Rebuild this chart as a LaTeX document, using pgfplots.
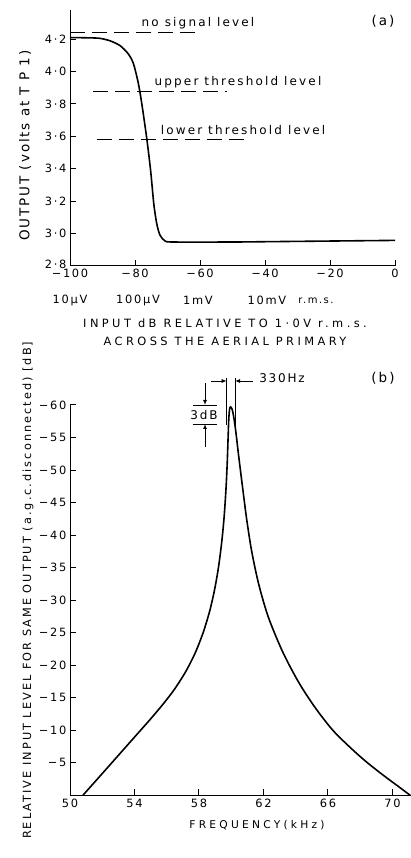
\documentclass[border=0pt]{standalone}
\usepackage{pgfplots}
\pgfplotsset{compat=1.18}
\usepackage{fontspec}
\setmainfont{DejaVu Sans}[LetterSpace=15]
\newfontfamily\capsfont{DejaVu Sans}[LetterSpace=30]
\newfontfamily\lowfont{DejaVu Sans}[LetterSpace=18]
\newfontfamily\ylabfont{DejaVu Sans}[LetterSpace=14]
\usetikzlibrary{arrows.meta}
\begin{document}
\begin{tikzpicture}
\path[use as bounding box] (0pt,0pt) rectangle (411pt,858pt);
% ---------------- (a) ----------------
\begin{axis}[
  at={(70pt,592pt)}, anchor=south west,
  scale only axis, width=325pt, height=256pt,
  xmin=-100, xmax=0, ymin=2.8, ymax=4.38,
  axis x line=bottom, axis y line=left,
  axis line style={-, line width=1pt},
  tick align=inside, major tick length=6pt,
  tick style={line width=1pt, black},
  xtick={-100,-80,-60,-40,-20,0},
  xticklabels={−100,−80,−60,−40,−20,0},
  ytick={2.8,3,3.2,3.4,3.6,3.8,4,4.2},
  yticklabels={\raisebox{4pt}{2·8},3·0,3·2,3·4,3·6,3·8,4·0,4·2},
  /pgf/number format/assume math mode=true,
  ticklabel style={font=\fontsize{11.4}{13}\selectfont},
  ylabel={OUTPUT (volts at T P 1)},
  ylabel style={at={(axis description cs:-0.138,0.47)}, anchor=center, font=\ylabfont\fontsize{13.5}{15}\selectfont},
  clip=false,
]
\addplot[black, line width=1.6pt, smooth, tension=0.45] coordinates {
(-100,4.21) (-94,4.208) (-90.8,4.205) (-87.7,4.19) (-84.6,4.16) (-82.1,4.11)
(-80.5,4.05) (-79.0,3.93) (-77.9,3.80) (-76.4,3.59) (-75.2,3.39) (-74.2,3.18)
(-73.3,3.06) (-72.3,2.99) (-70.8,2.955) (-68.2,2.948) (-50,2.948) (-39.5,2.95) (0,2.958)};
\addplot[black, line width=1pt, dash pattern=on 15pt off 7pt] coordinates {(-100,4.24) (-59.5,4.24)};
\addplot[black, line width=1pt, dash pattern=on 15pt off 7pt] coordinates {(-92.8,3.876) (-51.8,3.876)};
\addplot[black, line width=1pt, dash pattern=on 15pt off 7pt] coordinates {(-91.8,3.578) (-44.6,3.578)};
\end{axis}
\node[font=\lowfont\fontsize{12}{14}\selectfont] at (198pt,835pt) {no signal level};
\node[font=\lowfont\fontsize{12}{14}\selectfont] at (238pt,776pt) {upper threshold level};
\node[font=\lowfont\fontsize{12}{14}\selectfont] at (243pt,728pt) {lower threshold level};
\node[font=\fontsize{13.5}{15}\selectfont] at (383pt,837pt) {(a)};
\node[font=\fontsize{11.4}{13}\selectfont] at (70pt,558pt) {10μV};
\node[font=\fontsize{11.4}{13}\selectfont] at (138pt,558pt) {100μV};
\node[font=\fontsize{11.4}{13}\selectfont] at (198pt,558pt) {1mV};
\node[font=\fontsize{11.4}{13}\selectfont] at (267pt,558pt) {10mV};
\node[font=\fontsize{10}{12}\selectfont] at (316pt,557pt) {r.m.s.};
\node[font=\capsfont\fontsize{11.4}{13}\selectfont] at (225pt,535pt) {INPUT dB RELATIVE TO 1·0V r.m.s.};
\node[font=\capsfont\fontsize{11.4}{13}\selectfont] at (225pt,517pt) {ACROSS THE AERIAL PRIMARY};
% ---------------- (b) ----------------
\begin{axis}[
  at={(70pt,62.7pt)}, anchor=south west,
  scale only axis, width=341pt, height=390.3pt,
  xmin=50, xmax=71.15, ymin=0, ymax=60,
  axis x line=bottom, axis y line=left,
  axis line style={-, line width=1pt},
  tick align=inside, major tick length=6pt,
  tick style={line width=1pt, black},
  xtick={50,54,58,62,66,70},
  xticklabels={50,54,58,62,66,70},
  ytick={5,10,15,20,25,30,35,40,45,50,55,60},
  yticklabels={−5,−10,−15,−20,−25,−30,−35,−40,−45,−50,−55,−60},
  /pgf/number format/assume math mode=true,
  ticklabel style={font=\fontsize{11.4}{13}\selectfont},
  ylabel={RELATIVE INPUT LEVEL FOR SAME OUTPUT (a.g.c.disconnected) [dB]},
  ylabel style={at={(axis description cs:-0.123,0.525)}, anchor=center, font=\lowfont\fontsize{11.3}{13}\selectfont},
  clip=false,
]
\addplot[black, line width=1.6pt, smooth, tension=0.5] coordinates {
(50.8,0) (51.95,3.2) (52.95,6.0) (53.95,8.8) (54.95,11.6) (55.75,13.95)
(56.45,16.2) (57.15,18.9) (57.75,21.8) (58.25,24.95) (58.65,28.2) (58.95,31.4)
(59.2,34.9) (59.4,38.7) (59.55,42.5) (59.67,46.9) (59.75,51.0) (59.81,55.3)
(59.85,57.9) (59.89,59.2) (59.93,59.65) (59.97,59.7) (60.03,59.5) (60.1,58.9)
(60.19,57.6) (60.3,55.6) (60.44,52.6) (60.69,47.6) (60.96,42.4) (61.27,37.5)
(61.7,32.5) (62.3,27.4) (63.2,22.0) (64.2,17.3) (65.2,13.5) (66.3,10.0)
(67.4,7.3) (68.4,5.1) (69.5,2.95) (70.4,1.3) (71.1,0)};
\end{axis}
\node[font=\fontsize{13.5}{15}\selectfont] at (383pt,480pt) {(b)};
\node[font=\capsfont\fontsize{10.7}{12}\selectfont] at (257pt,33pt) {FREQUENCY(kHz)};
\node[font=\fontsize{12}{14}\selectfont] at (282pt,480pt) {330Hz};
\node[font=\fontsize{12}{14}\selectfont] at (204pt,443pt) {3dB};
\draw[line width=0.9pt] (193pt,453pt) -- (217pt,453pt);
\draw[line width=0.9pt] (193pt,434pt) -- (217pt,434pt);
\draw[line width=0.9pt, -{Latex[length=5pt,width=4pt]}] (205pt,475pt) -- (205pt,453pt);
\draw[line width=0.9pt, -{Latex[length=5pt,width=4pt]}] (205pt,411pt) -- (205pt,434pt);
\draw[line width=0.9pt] (226.7pt,480pt) -- (226.7pt,433pt);
\draw[line width=0.9pt] (235pt,480pt) -- (235pt,433pt);
\draw[line width=0.9pt, -{Latex[length=5pt,width=4pt]}] (211pt,477pt) -- (226.7pt,477pt);
\draw[line width=0.9pt, -{Latex[length=5pt,width=4pt]}] (253pt,477pt) -- (235pt,477pt);
\end{tikzpicture}
\end{document}
